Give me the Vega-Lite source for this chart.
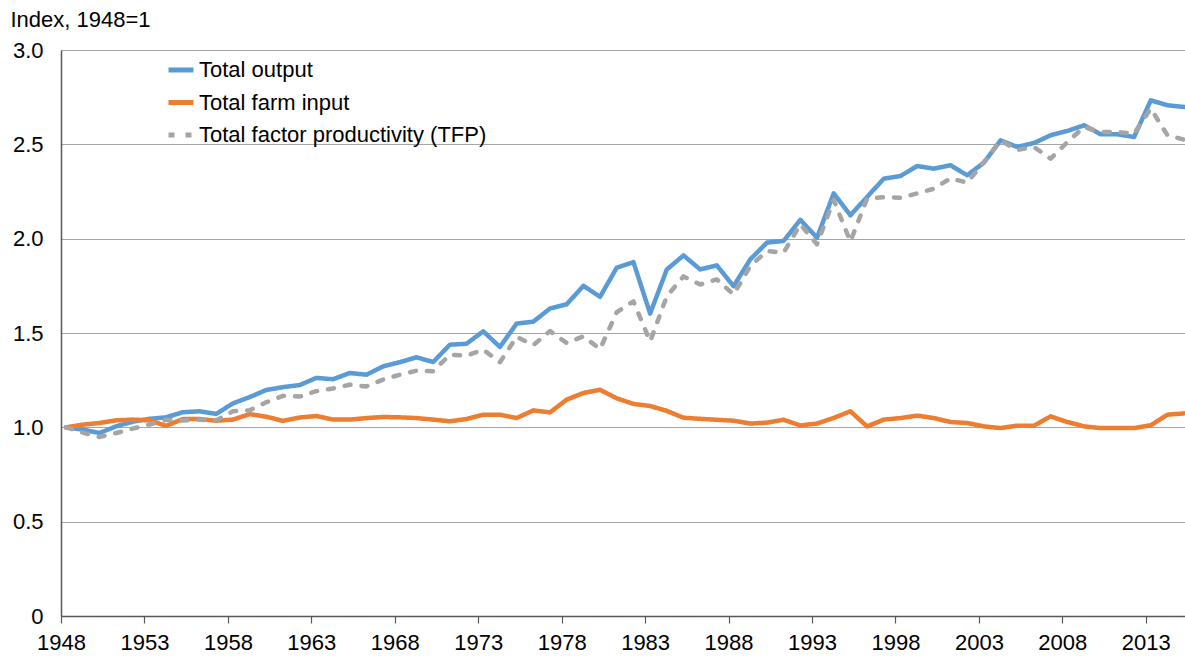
{
  "$schema": "https://vega.github.io/schema/vega-lite/v6.json",
  "width": 1124,
  "height": 566,
  "autosize": {"type": "none"},
  "padding": {"left": 61, "top": 50, "right": 0, "bottom": 40},
  "background": "white",
  "config": {
    "view": {"stroke": null},
    "font": "Liberation Sans"
  },
  "data": {
    "values": [
      {"year": 1948, "output": 1.000, "input": 1.000, "tfp": 1.000},
      {"year": 1949, "output": 0.988, "input": 1.014, "tfp": 0.972},
      {"year": 1950, "output": 0.970, "input": 1.023, "tfp": 0.949},
      {"year": 1951, "output": 1.005, "input": 1.037, "tfp": 0.970},
      {"year": 1952, "output": 1.030, "input": 1.041, "tfp": 0.993},
      {"year": 1953, "output": 1.045, "input": 1.037, "tfp": 1.015},
      {"year": 1954, "output": 1.053, "input": 1.008, "tfp": 1.040},
      {"year": 1955, "output": 1.080, "input": 1.044, "tfp": 1.036},
      {"year": 1956, "output": 1.085, "input": 1.044, "tfp": 1.040},
      {"year": 1957, "output": 1.071, "input": 1.035, "tfp": 1.037},
      {"year": 1958, "output": 1.127, "input": 1.041, "tfp": 1.085},
      {"year": 1959, "output": 1.160, "input": 1.070, "tfp": 1.090},
      {"year": 1960, "output": 1.198, "input": 1.056, "tfp": 1.133},
      {"year": 1961, "output": 1.213, "input": 1.034, "tfp": 1.167},
      {"year": 1962, "output": 1.224, "input": 1.052, "tfp": 1.163},
      {"year": 1963, "output": 1.262, "input": 1.060, "tfp": 1.192},
      {"year": 1964, "output": 1.255, "input": 1.041, "tfp": 1.206},
      {"year": 1965, "output": 1.288, "input": 1.041, "tfp": 1.226},
      {"year": 1966, "output": 1.279, "input": 1.049, "tfp": 1.217},
      {"year": 1967, "output": 1.323, "input": 1.055, "tfp": 1.253},
      {"year": 1968, "output": 1.345, "input": 1.053, "tfp": 1.279},
      {"year": 1969, "output": 1.371, "input": 1.049, "tfp": 1.300},
      {"year": 1970, "output": 1.346, "input": 1.041, "tfp": 1.297},
      {"year": 1971, "output": 1.438, "input": 1.032, "tfp": 1.385},
      {"year": 1972, "output": 1.443, "input": 1.044, "tfp": 1.380},
      {"year": 1973, "output": 1.509, "input": 1.067, "tfp": 1.412},
      {"year": 1974, "output": 1.426, "input": 1.067, "tfp": 1.345},
      {"year": 1975, "output": 1.550, "input": 1.049, "tfp": 1.480},
      {"year": 1976, "output": 1.560, "input": 1.090, "tfp": 1.436},
      {"year": 1977, "output": 1.630, "input": 1.079, "tfp": 1.510},
      {"year": 1978, "output": 1.652, "input": 1.147, "tfp": 1.447},
      {"year": 1979, "output": 1.750, "input": 1.182, "tfp": 1.482},
      {"year": 1980, "output": 1.692, "input": 1.199, "tfp": 1.415},
      {"year": 1981, "output": 1.846, "input": 1.154, "tfp": 1.610},
      {"year": 1982, "output": 1.876, "input": 1.124, "tfp": 1.668},
      {"year": 1983, "output": 1.603, "input": 1.113, "tfp": 1.455},
      {"year": 1984, "output": 1.837, "input": 1.087, "tfp": 1.695},
      {"year": 1985, "output": 1.911, "input": 1.051, "tfp": 1.800},
      {"year": 1986, "output": 1.837, "input": 1.045, "tfp": 1.757},
      {"year": 1987, "output": 1.858, "input": 1.040, "tfp": 1.784},
      {"year": 1988, "output": 1.748, "input": 1.035, "tfp": 1.704},
      {"year": 1989, "output": 1.890, "input": 1.020, "tfp": 1.855},
      {"year": 1990, "output": 1.979, "input": 1.025, "tfp": 1.934},
      {"year": 1991, "output": 1.988, "input": 1.040, "tfp": 1.926},
      {"year": 1992, "output": 2.100, "input": 1.010, "tfp": 2.076},
      {"year": 1993, "output": 2.005, "input": 1.020, "tfp": 1.970},
      {"year": 1994, "output": 2.240, "input": 1.050, "tfp": 2.205},
      {"year": 1995, "output": 2.124, "input": 1.085, "tfp": 1.985},
      {"year": 1996, "output": 2.221, "input": 1.005, "tfp": 2.212},
      {"year": 1997, "output": 2.318, "input": 1.041, "tfp": 2.220},
      {"year": 1998, "output": 2.332, "input": 1.049, "tfp": 2.217},
      {"year": 1999, "output": 2.385, "input": 1.062, "tfp": 2.240},
      {"year": 2000, "output": 2.371, "input": 1.049, "tfp": 2.265},
      {"year": 2001, "output": 2.389, "input": 1.028, "tfp": 2.320},
      {"year": 2002, "output": 2.336, "input": 1.023, "tfp": 2.297},
      {"year": 2003, "output": 2.403, "input": 1.005, "tfp": 2.406},
      {"year": 2004, "output": 2.521, "input": 0.996, "tfp": 2.521},
      {"year": 2005, "output": 2.486, "input": 1.009, "tfp": 2.470},
      {"year": 2006, "output": 2.507, "input": 1.009, "tfp": 2.486},
      {"year": 2007, "output": 2.548, "input": 1.058, "tfp": 2.424},
      {"year": 2008, "output": 2.571, "input": 1.028, "tfp": 2.512},
      {"year": 2009, "output": 2.601, "input": 1.005, "tfp": 2.592},
      {"year": 2010, "output": 2.553, "input": 0.996, "tfp": 2.565},
      {"year": 2011, "output": 2.553, "input": 0.996, "tfp": 2.565},
      {"year": 2012, "output": 2.539, "input": 0.996, "tfp": 2.557},
      {"year": 2013, "output": 2.733, "input": 1.011, "tfp": 2.689},
      {"year": 2014, "output": 2.707, "input": 1.067, "tfp": 2.548},
      {"year": 2015, "output": 2.698, "input": 1.074, "tfp": 2.525}
    ]
  },
  "transform": [
    {"fold": ["output", "input", "tfp"], "as": ["series", "value"]}
  ],
  "mark": {"type": "line", "strokeWidth": 4.5, "strokeCap": "round", "strokeJoin": "round"},
  "encoding": {
    "x": {
      "field": "year",
      "type": "quantitative",
      "scale": {"domain": [1947.7, 2015.05], "nice": false, "zero": false},
      "axis": {
        "title": null,
        "values": [1947.7, 1952.7, 1957.7, 1962.7, 1967.7, 1972.7, 1977.7, 1982.7, 1987.7, 1992.7, 1997.7, 2002.7, 2007.7, 2012.7],
        "labelExpr": "toString(round(datum.value + 0.3))",
        "grid": false,
        "domainColor": "#595959",
        "domainWidth": 1.5,
        "tickColor": "#595959",
        "tickSize": 7,
        "tickWidth": 1.2,
        "labelFontSize": 22,
        "labelColor": "#000000",
        "labelPadding": 9,
        "labelFlush": false,
        "labelOverlap": false
      }
    },
    "y": {
      "field": "value",
      "type": "quantitative",
      "scale": {"domain": [0, 3], "nice": false},
      "axis": {
        "title": "Index, 1948=1",
        "titleAngle": 0,
        "titleAlign": "left",
        "titleBaseline": "alphabetic",
        "titleX": -51,
        "titleY": -24,
        "titleFontSize": 22,
        "titleFontWeight": "normal",
        "titleColor": "#000000",
        "values": [0, 0.5, 1, 1.5, 2, 2.5, 3],
        "labelExpr": "datum.value == 0 ? '0' : format(datum.value, '.1f')",
        "ticks": false,
        "tickSize": 0,
        "labelPadding": 18,
        "labelFontSize": 22,
        "labelColor": "#000000",
        "domainColor": "#595959",
        "domainWidth": 1.5,
        "grid": true,
        "gridColor": "#a6a6a6",
        "gridWidth": 1
      }
    },
    "color": {
      "field": "series",
      "type": "nominal",
      "scale": {"domain": ["output", "input", "tfp"], "range": ["#5B9BD5", "#ED7D31", "#A5A5A5"]},
      "legend": {
        "title": null,
        "orient": "none",
        "legendX": 105,
        "legendY": 5,
        "padding": 0,
        "symbolType": "stroke",
        "symbolSize": 625,
        "symbolStrokeWidth": 5,
        "labelFontSize": 22,
        "labelColor": "#000000",
        "labelOffset": 3,
        "labelLimit": 500,
        "rowPadding": 6.5,
        "labelExpr": "datum.label == 'output' ? 'Total output' : datum.label == 'input' ? 'Total farm input' : 'Total factor productivity (TFP)'"
      }
    },
    "strokeDash": {
      "field": "series",
      "type": "nominal",
      "scale": {"domain": ["output", "input", "tfp"], "range": [[1, 0], [1, 0], [6, 11]]},
      "legend": {
        "title": null,
        "orient": "none",
        "legendX": 105,
        "legendY": 5,
        "padding": 0,
        "symbolType": "stroke",
        "symbolSize": 625,
        "symbolStrokeWidth": 5,
        "labelFontSize": 22,
        "labelColor": "#000000",
        "labelOffset": 3,
        "labelLimit": 500,
        "rowPadding": 6.5,
        "labelExpr": "datum.label == 'output' ? 'Total output' : datum.label == 'input' ? 'Total farm input' : 'Total factor productivity (TFP)'"
      }
    }
  }
}
